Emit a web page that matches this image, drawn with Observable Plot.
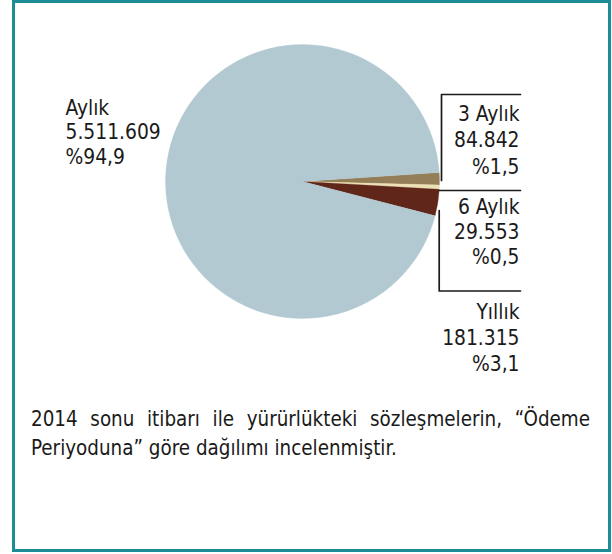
<!DOCTYPE html>
<html>
<head>
<meta charset="utf-8">
<script src="https://cdn.jsdelivr.net/npm/d3@7"></script>
<script src="https://cdn.jsdelivr.net/npm/@observablehq/plot@0.6"></script>
<style>
  html, body { margin: 0; padding: 0; background: #fff; }
  body { width: 612px; height: 554px; position: relative; overflow: hidden; font-family: "DejaVu Sans Condensed", "DejaVu Sans", sans-serif; }
  #frame { position: absolute; left: 12px; top: 0px; width: 599px; height: 552px; box-sizing: border-box; border: 3px solid #1b8d95; }
  #chart { position: absolute; left: 0; top: 0; }
  #caption { position: absolute; left: 31px; top: 405px; width: 559px; font-size: 20.4px; line-height: 29px; color: #1a1a1a; text-align: justify; text-align-last: left; }
</style>
</head>
<body>
<div id="frame"></div>
<div id="chart"></div>
<div id="caption">2014 sonu itibarı ile yürürlükteki sözleşmelerin, “Ödeme Periyoduna” göre dağılımı incelenmiştir.</div>
<script>
// ---- data ----
const categories = ["3 Aylık", "6 Aylık", "Yıllık", "Aylık"];
const counts = [84842, 29553, 181315, 5511609];
const colors = ["#937e57", "#ede0b4", "#5f2619", "#b2c9d2"];

// ---- layout (pixels) ----
const W = 612, H = 390;
const pieCenter = [302.5, 181.5];
const pieRadius = 137;
const pieStart = (90 - 3.8) * Math.PI / 180;
const fontSize = 20.8;
const labelLayout = {
  "3 Aylık": {x: 519, y: 138.4, anchor: "end", lh: 1.27},
  "6 Aylık": {x: 519, y: 230.6, anchor: "end", lh: 1.21},
  "Yıllık":  {x: 519, y: 336,   anchor: "end", lh: 1.24},
  "Aylık":   {x: 65,  y: 131,   anchor: "start", lh: 1.19}
};
const leaders = [
  [[520, 94], [441, 94], [441, 180]],
  [[439, 190], [520, 190]],
  [[438.7, 210], [438.7, 290.5], [520, 290.5]]
];

const total = d3.sum(counts);
const trLocale = d3.formatLocale({decimal: ",", thousands: ".", grouping: [3], currency: ["", ""]});
const fmtInt = trLocale.format(",d");
const fmtPct = trLocale.format(".1f");

const rows = categories.map((c, i) => ({
  category: c,
  count: counts[i],
  color: colors[i],
  label: `${c}\n${fmtInt(counts[i])}\n%${fmtPct(counts[i] / total * 100)}`
}));

const arcs = d3.pie().sort(null).value(d => d.count)
  .startAngle(pieStart).endAngle(pieStart + 2 * Math.PI)(rows);

const leaderRows = leaders.flatMap((pts, k) => pts.map(([x, y]) => ({k, x, y})));

function pieMark(index, scales) {
  const {x, y} = scales;
  const cx = x(pieCenter[0]), cy = y(pieCenter[1]);
  const r = x(pieCenter[0] + pieRadius) - cx;
  const arc = d3.arc().innerRadius(0).outerRadius(r);
  const g = d3.create("svg:g").attr("transform", `translate(${cx},${cy})`);
  g.selectAll("path").data(arcs).join("path")
    .attr("d", arc)
    .attr("fill", d => d.data.color)
    .attr("stroke", d => d.data.color)
    .attr("stroke-width", 0.3);
  return g.node();
}

const textMarks = rows.map(r => {
  const L = labelLayout[r.category];
  return Plot.text([r], {
    x: () => L.x, y: () => L.y, text: "label",
    textAnchor: L.anchor, lineAnchor: "middle", lineHeight: L.lh,
    fontSize: fontSize, fill: "#1a1a1a"
  });
});

const plot = Plot.plot({
  width: W, height: H,
  margin: 0,
  style: {fontFamily: '"DejaVu Sans Condensed", "DejaVu Sans", sans-serif', background: "transparent", overflow: "visible"},
  x: {domain: [0, W], range: [0, W], axis: null},
  y: {domain: [0, H], range: [0, H], axis: null},
  marks: [
    pieMark,
    Plot.line(leaderRows, {x: "x", y: "y", z: "k", stroke: "#1a1a1a", strokeWidth: 1.7, curve: "linear"}),
    ...textMarks
  ]
});
document.getElementById("chart").appendChild(plot);
</script>
</body>
</html>
